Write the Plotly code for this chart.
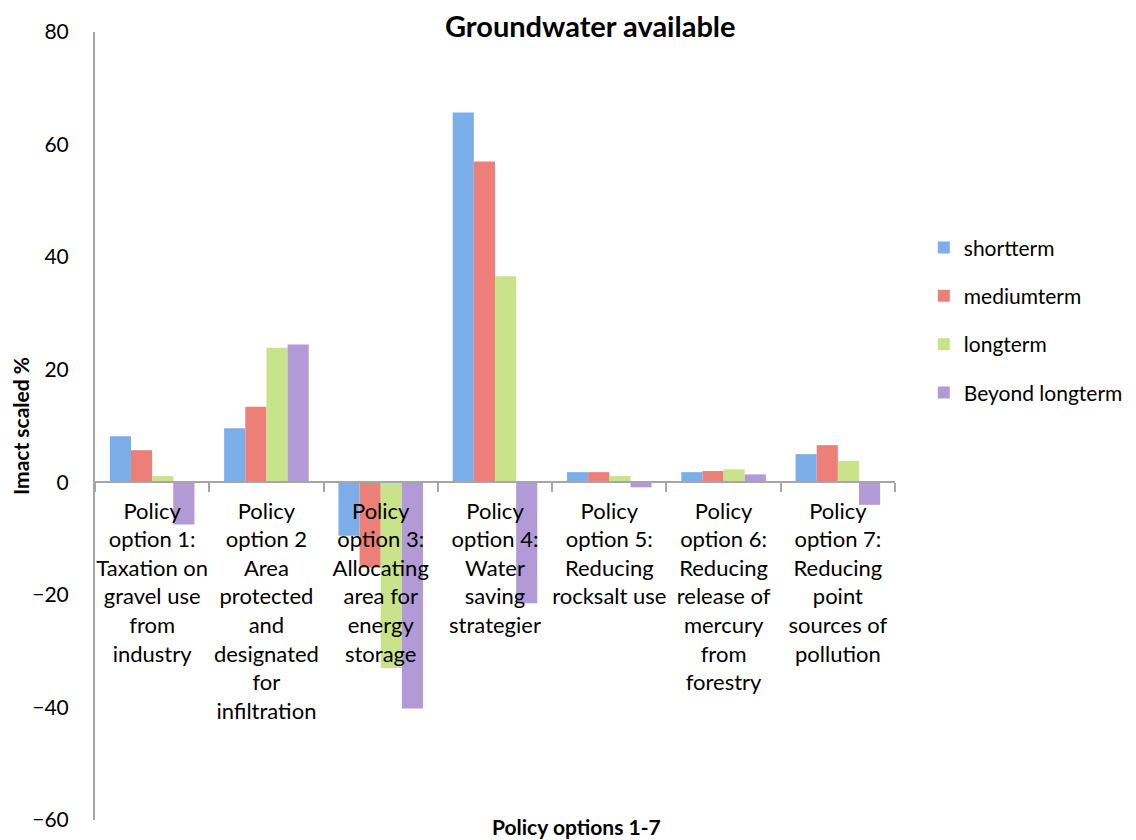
import plotly.graph_objects as go

categories = [
    "Policy<br>option 1:<br>Taxation on<br>gravel use<br>from<br>industry",
    "Policy<br>option 2<br>Area<br>protected<br>and<br>designated<br>for<br>infiltration",
    "Policy<br>option 3:<br>Allocating<br>area for<br>energy<br>storage",
    "Policy<br>option 4:<br>Water<br>saving<br>strategier",
    "Policy<br>option 5:<br>Reducing<br>rocksalt use",
    "Policy<br>option 6:<br>Reducing<br>release of<br>mercury<br>from<br>forestry",
    "Policy<br>option 7:<br>Reducing<br>point<br>sources of<br>pollution",
]
shortterm = [8.2, 9.6, -9.5, 65.7, 1.8, 1.8, 5.0]
mediumterm = [5.7, 13.4, -15.2, 57.0, 1.8, 2.0, 6.6]
longterm = [1.1, 23.9, -33.0, 36.6, 1.1, 2.3, 3.8]
beyond = [-7.5, 24.5, -40.2, -21.5, -0.9, 1.4, -4.0]

series = [
    ("shortterm", shortterm, "#7caee9"),
    ("mediumterm", mediumterm, "#ec8079"),
    ("longterm", longterm, "#c9e38a"),
    ("Beyond longterm", beyond, "#b29ad6"),
]

FONT = "Lato, 'Open Sans', sans-serif"

fig = go.Figure()
for i, (name, vals, col) in enumerate(series):
    fig.add_trace(go.Bar(
        x=categories, y=vals, name=name, marker_color=col,
        marker_line_width=0, legendgroup=f"g{i}",
    ))

PH = 788  # plot height in px
PW = 800  # plot width in px

fig.update_layout(
    width=1128, height=832,
    margin=dict(l=87, r=241, t=24, b=20, autoexpand=False),
    plot_bgcolor="white", paper_bgcolor="white",
    barmode="group", bargap=0.26, bargroupgap=0,
    font=dict(family=FONT, size=18, color="#000"),
    showlegend=True,
    legend=dict(
        x=1.036, y=0.634, xanchor="left", yanchor="middle",
        font=dict(size=21, family=FONT), traceorder="grouped",
        tracegroupgap=18, itemwidth=30,
    ),
    xaxis=dict(
        anchor="free", position=60 / 140, automargin=False,
        showline=True, linecolor="#a6a6a6", linewidth=2,
        ticks="outside", ticklen=9, tickcolor="#a6a6a6", tickwidth=2,
        tickson="boundaries", showgrid=False, tickangle=0,
        tickfont=dict(size=22, family=FONT), ticklabelstandoff=9,
    ),
    yaxis=dict(
        range=[-60, 80], dtick=20, showgrid=False, zeroline=False,
        automargin=False,
        showline=True, linecolor="#a6a6a6", linewidth=2,
        ticks="", tickfont=dict(size=21, family=FONT),
        ticklabelstandoff=20,
        title=dict(text="<b>Imact scaled %</b>", font=dict(size=21, family=FONT), standoff=12),
    ),
    annotations=[
        dict(text="<b>Groundwater available</b>", x=(590 - 95) / PW, y=1 + (32 - 25) / PH,
             xref="paper", yref="paper", yanchor="middle",
             showarrow=False, font=dict(size=29, family=FONT)),
        dict(text="<b>Policy options 1-7</b>", x=(576 - 95) / PW, y=-(826 - 820) / PH,
             xref="paper", yref="paper", yanchor="middle",
             showarrow=False, font=dict(size=21, family=FONT)),
    ],
)

fig.write_html("out.html")
